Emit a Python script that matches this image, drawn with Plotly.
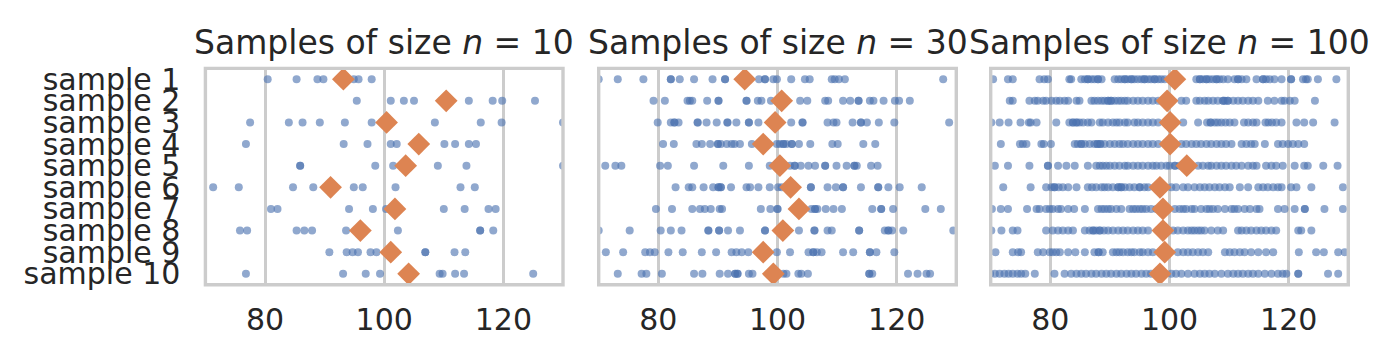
import plotly.graph_objects as go

# ---------------- data ----------------
sample_labels = [f"sample {i}" for i in range(1, 11)]
x_ticks = [80, 100, 120]
titles = ["Samples of size <i>n</i> = 10", "Samples of size <i>n</i> = 30", "Samples of size <i>n</i> = 100"]

n10_values = [
    [80.45, 85.3, 88.8, 89.8, 94.9, 95.7, 97.9],
    [95.4, 101.1, 103.3, 105.0, 114.2, 118.2, 119.8, 125.3],
    [77.5, 84.0, 86.3, 89.2, 93.4, 97.9, 108.5, 116.2, 119.7, 130.0],
    [76.8, 93.2, 97.2, 101.1, 102.1, 110.1, 111.9, 114.2, 115.4],
    [85.9, 85.9, 98.5, 101.5, 109.0, 113.8, 130.0],
    [71.3, 75.6, 84.7, 88.1, 94.9, 96.4, 101.9, 112.8, 115.2],
    [81.0, 82.1, 94.1, 98.1, 100.3, 110.0, 113.5, 117.5, 118.7],
    [75.8, 77.0, 85.3, 86.6, 87.9, 93.6, 102.3, 116.1, 116.1, 118.3],
    [90.8, 93.7, 94.7, 95.6, 97.7, 98.7, 106.9, 106.9, 111.8, 113.6],
    [76.8, 93.1, 96.9, 99.3, 109.3, 109.8, 111.9, 113.4, 125.0],
]
n10_means = [93.15, 110.4, 100.4, 105.8, 103.6, 91.0, 101.8, 96.0, 101.1, 104.1]

n30_values = [
    [70.0, 73.2, 77.5, 82.1, 82.1, 83.6, 86.0, 89.1, 91.2, 91.2, 96.9, 97.9, 97.9, 99.3,
     99.9, 102.3, 104.6, 105.4, 109.1, 109.6, 110.3, 111.3, 127.8],
    [79.2, 81.1, 84.9, 85.3, 85.7, 88.2, 90.1, 90.1, 94.8, 94.8, 96.7, 97.3, 98.9,
     103.8, 105.0, 108.0, 108.5, 111.0, 112.2, 113.6, 113.6, 115.5, 116.1, 117.8, 119.7, 120.4, 122.2],
    [79.9, 82.1, 82.7, 82.7, 83.4, 86.6, 86.6, 88.1, 89.8, 91.6, 91.6, 93.1, 95.2, 95.2, 96.8,
     102.3, 104.2, 104.2, 108.4, 109.4, 109.9, 112.6, 114.0, 114.0, 115.0, 117.0, 119.6, 128.8],
    [80.8, 82.6, 86.4, 87.3, 88.7, 90.0, 90.0, 90.5, 91.5, 92.3, 92.8, 93.7, 95.7,
     99.9, 100.4, 101.0, 101.0, 101.5, 102.4, 102.4, 103.6, 105.5, 109.2, 110.1, 114.4, 116.4],
    [71.1, 72.8, 73.8, 80.3, 81.6, 86.0, 90.9, 95.2, 98.7,
     102.1, 102.9, 102.9, 103.9, 105.2, 106.3, 108.0, 108.0, 109.9, 111.6, 112.9, 112.9, 113.3, 115.7, 116.8],
    [82.9, 85.1, 85.7, 87.6, 89.2, 90.1, 90.1, 90.5, 90.5, 92.2, 94.8, 95.4, 96.8, 98.7,
     100.1, 100.7, 105.6, 105.6, 108.4, 109.8, 111.0, 111.0, 114.0, 116.9, 116.9, 118.6, 120.5, 124.2],
    [79.6, 82.3, 85.7, 87.0, 87.8, 88.8, 90.3, 90.7, 97.2, 98.8,
     100.0, 100.0, 105.7, 106.3, 106.3, 106.7, 108.1, 109.4, 110.8, 115.9, 117.4, 117.4, 119.4, 124.8, 127.4],
    [70.0, 75.2, 80.4, 82.1, 83.9, 88.4, 88.4, 90.2, 90.2, 91.7, 93.7, 97.9, 97.9,
     103.6, 106.2, 106.2, 108.4, 109.1, 113.7, 113.7, 118.0, 118.6, 118.6, 119.2, 121.1, 129.5],
    [71.2, 74.1, 77.8, 78.6, 79.4, 81.7, 84.1, 87.3, 89.7, 92.3, 93.1, 94.0, 95.1,
     99.9, 102.1, 105.2, 106.0, 106.0, 106.6, 107.4, 111.0, 112.7, 115.5, 115.5, 116.6, 119.6],
    [73.2, 77.2, 78.0, 80.6, 86.0, 87.4, 90.3, 91.7, 92.9, 92.9, 93.3, 93.3, 95.2, 95.8,
     101.0, 101.5, 103.5, 104.0, 105.1, 115.4, 115.4, 115.9, 121.9, 123.5, 125.0, 125.6],
]
n30_means = [94.5, 100.7, 99.6, 97.6, 100.4, 102.2, 103.6, 100.9, 97.6, 99.3]

n100_values = [
    [70.4, 72.9, 73.7, 78.2, 79.0, 79.6, 83.2, 83.5, 85.2, 85.8, 86.3, 86.3, 86.9, 87.4, 88.0, 88.0, 88.6,
     90.8, 91.4, 91.9, 92.5, 92.5, 93.0, 93.6, 93.6, 94.1, 94.7, 95.3, 95.8, 95.8, 96.4, 96.9, 97.5, 97.5,
     98.1, 98.6, 99.2, 104.5, 105.1, 105.1, 105.6, 106.2, 106.2, 106.7, 107.3, 107.9, 107.9, 108.4, 109.0,
     109.8, 110.9, 111.5, 111.5, 112.1, 112.9, 114.6, 115.7, 115.7, 116.2, 116.8, 117.6, 118.8, 120.4,
     120.4, 122.4, 122.9, 123.2, 124.9, 128.0],
    [73.2, 73.7, 76.5, 77.4, 77.9, 78.8, 79.3, 80.2, 81.0, 81.6, 82.4, 83.0, 84.4, 84.9, 86.9, 87.4, 88.0,
     88.6, 89.1, 89.7, 89.7, 90.2, 90.2, 90.8, 91.4, 91.9, 92.5, 93.0, 93.9, 94.7, 95.5, 96.4, 97.2, 98.1,
     102.0, 102.8, 104.5, 105.1, 105.9, 106.5, 107.3, 108.1, 109.0, 109.0, 109.3, 109.8, 109.8, 110.7,
     111.5, 112.3, 113.2, 114.0, 114.9, 116.5, 117.6, 118.8, 119.3, 120.2, 121.0, 124.4],
    [70.1, 71.5, 73.0, 75.0, 76.4, 76.7, 77.7, 81.0, 83.2, 83.8, 83.8, 84.4, 84.4, 84.9, 85.5, 86.3, 86.9,
     88.3, 88.8, 89.7, 90.5, 91.1, 91.6, 92.5, 93.0, 94.1, 94.7, 95.5, 96.4, 97.2, 98.1,
     102.3, 104.8, 106.3, 106.9, 106.9, 107.6, 108.1, 108.7, 109.4, 110.1, 110.9, 112.5, 113.2, 114.0,
     114.6, 116.1, 116.6, 117.2, 117.9, 118.8, 121.3, 122.6, 124.1, 127.7],
    [71.7, 74.9, 75.4, 76.0, 78.5, 78.9, 80.1, 84.1, 84.6, 85.2, 85.2, 85.8, 86.6, 87.4, 87.9, 87.9, 88.4,
     88.4, 89.1, 90.0, 90.8, 91.6, 92.2, 93.0, 93.9, 94.7, 95.5, 96.4, 97.2, 98.1,
     102.0, 102.8, 103.7, 104.5, 105.3, 106.2, 107.0, 107.9, 108.7, 109.5, 110.4, 112.1, 112.9, 113.7,
     114.3, 116.0, 118.2, 119.0, 119.9, 120.7, 121.6, 122.6],
    [70.7, 72.9, 76.5, 79.6, 79.6, 81.3, 82.7, 84.1, 86.3, 87.7, 88.3, 88.8, 89.4, 90.0, 90.8, 91.6, 92.5,
     93.0, 93.9, 94.7, 95.5, 96.4, 97.2, 97.8, 98.6, 99.5, 100.0, 100.9, 100.9, 101.7,
     104.8, 105.6, 106.5, 107.0, 107.9, 108.7, 109.5, 110.4, 111.2, 112.1, 113.2, 114.0, 114.6, 116.2,
     117.1, 117.9, 119.0, 121.0, 122.6, 123.2, 125.8, 128.2],
    [72.1, 76.7, 79.3, 80.2, 80.7, 80.7, 81.4, 82.1, 83.0, 84.4, 86.3, 87.0, 87.7, 88.6, 89.1, 89.7, 90.5,
     91.4, 91.4, 91.9, 91.9, 92.5, 93.3, 94.1, 95.0, 95.0, 95.8, 96.4, 97.5,
     100.3, 101.1, 102.3, 103.1, 104.2, 105.1, 105.9, 106.7, 107.6, 108.4, 109.3, 110.1, 111.8, 113.2,
     114.9, 115.7, 116.5, 117.4, 118.2, 118.8, 120.4, 121.3, 123.8, 129.1],
    [70.2, 71.7, 72.9, 76.1, 77.7, 78.2, 79.3, 79.9, 80.4, 81.3, 81.8, 83.0, 84.0, 85.8, 88.0, 88.6, 89.1,
     89.7, 90.2, 91.1, 91.9, 93.3, 93.9, 94.4, 95.0, 95.5, 96.1, 96.9, 97.8,
     100.9, 101.7, 102.3, 102.8, 103.7, 104.2, 105.3, 106.2, 106.7, 107.3, 108.1, 109.3, 110.4, 110.9,
     111.5, 112.6, 113.5, 114.6, 115.1, 118.2, 119.3, 121.0, 122.7, 122.7, 126.0, 129.1],
    [70.1, 71.8, 73.7, 74.5, 79.3, 80.4, 81.3, 82.1, 83.0, 83.8, 85.8, 86.6, 87.2, 87.2, 87.7, 88.3, 88.3,
     89.0, 89.7, 90.5, 91.4, 92.2, 93.0, 93.9, 94.7, 95.5, 96.4,
     100.6, 101.4, 102.3, 103.1, 103.7, 104.2, 104.8, 105.3, 105.9, 107.0, 108.1, 109.0, 111.5, 112.1,
     112.9, 113.7, 114.6, 115.4, 116.2, 117.1, 117.9, 121.6, 122.1, 123.8],
    [70.8, 73.7, 74.6, 75.1, 77.9, 78.8, 79.9, 80.4, 81.0, 81.6, 83.0, 84.2, 85.8, 87.4, 88.1, 88.1, 88.8,
     90.5, 91.1, 91.6, 92.2, 93.0, 93.6, 94.1, 95.0, 95.5, 96.4, 97.2,
     101.4, 102.3, 103.1, 103.9, 104.8, 105.6, 106.5, 109.3, 110.1, 110.9, 111.8, 112.6, 113.7, 114.9,
     116.2, 117.4, 121.7, 124.6, 125.9, 128.3, 129.4],
    [69.9, 70.7, 71.5, 72.3, 73.0, 73.7, 74.5, 75.1, 75.8, 77.4, 80.7, 82.4, 83.5, 84.4, 85.2, 86.0, 86.9,
     87.7, 88.6, 89.4, 90.2, 91.1, 91.9, 92.8, 93.6, 94.4, 95.3, 96.1, 96.9, 97.8,
     100.3, 101.1, 102.0, 103.1, 104.2, 105.1, 105.9, 106.7, 107.6, 108.7, 109.8, 110.7, 111.5, 112.3,
     113.2, 114.0, 114.9, 116.0, 117.1, 118.2, 119.0, 119.6, 121.6, 121.6, 126.6, 128.3],
]
n100_means = [100.9, 99.6, 100.1, 100.1, 102.9, 98.4, 98.9, 98.9, 99.2, 98.4]

panels = [(n10_values, n10_means), (n30_values, n30_means), (n100_values, n100_means)]

# ---------------- layout geometry ----------------
W, H = 1387, 363
OFF = 8  # page body margin offset
def px_x(x):
    return (x - OFF) / W
def px_y(y):
    return (H - (y - OFF)) / H

x_domains = [(px_x(205.4), px_x(563.0)), (px_x(598.7), px_x(956.3)), (px_x(990.7), px_x(1348.3))]
y_domain = (px_y(288.5), px_y(63.5))

BLUE = "#4C72B0"
ORANGE = "#DD8452"
GRID = "#cccccc"
TXT = "#262626"
FONT = "DejaVu Sans"

fig = go.Figure()

for p, (values, means) in enumerate(panels):
    xa = "x" if p == 0 else f"x{p+1}"
    ya = "y" if p == 0 else f"y{p+1}"
    xs, ys = [], []
    for r, row in enumerate(values):
        xs.extend(row)
        ys.extend([r] * len(row))
    fig.add_trace(go.Scatter(
        x=xs, y=ys, mode="markers", xaxis=xa, yaxis=ya,
        marker=dict(color=BLUE, size=8, opacity=0.62, line=dict(width=0)),
        showlegend=False, hoverinfo="x",
    ))
    fig.add_trace(go.Scatter(
        x=means, y=list(range(len(means))), mode="markers", xaxis=xa, yaxis=ya,
        marker=dict(color=ORANGE, size=17.5, symbol="diamond", line=dict(width=0)),
        showlegend=False, hoverinfo="x",
    ))

layout = dict(
    width=W, height=H,
    margin=dict(l=0, r=0, t=0, b=0),
    paper_bgcolor="white", plot_bgcolor="white",
    font=dict(family=FONT, color=TXT, size=30),
    shapes=[], annotations=[],
)

for p in range(3):
    xk = "xaxis" if p == 0 else f"xaxis{p+1}"
    yk = "yaxis" if p == 0 else f"yaxis{p+1}"
    ya = "y" if p == 0 else f"y{p+1}"
    xa = "x" if p == 0 else f"x{p+1}"
    layout[xk] = dict(
        domain=list(x_domains[p]), anchor=ya, range=[70, 130],
        tickvals=x_ticks, ticktext=[str(t) for t in x_ticks],
        showgrid=True, gridcolor=GRID, gridwidth=2.6,
        zeroline=False, showline=False, ticks="",
        tickfont=dict(family=FONT, size=30, color=TXT),
        ticklabelstandoff=14,
    )
    layout[yk] = dict(
        domain=list(y_domain), anchor=xa, range=[9.5, -0.5],
        tickvals=list(range(10)),
        ticktext=sample_labels if p == 0 else [""] * 10,
        showticklabels=(p == 0),
        showgrid=False, zeroline=False, showline=False, ticks="",
        tickfont=dict(family=FONT, size=30, color=TXT),
        ticklabelstandoff=24,
    )
    layout["shapes"].append(dict(
        type="rect", xref=f"{xa} domain", yref=f"{ya} domain",
        x0=0, x1=1, y0=0, y1=1, line=dict(color=GRID, width=3.4), layer="above",
    ))
    layout["annotations"].append(dict(
        text=titles[p], xref="paper", yref="paper",
        x=(x_domains[p][0] + x_domains[p][1]) / 2, y=px_y(37),
        xanchor="center", yanchor="middle", showarrow=False,
        font=dict(family=FONT, size=33, color=TXT),
    ))

fig.update_layout(**layout)
fig.write_html("out.html")
